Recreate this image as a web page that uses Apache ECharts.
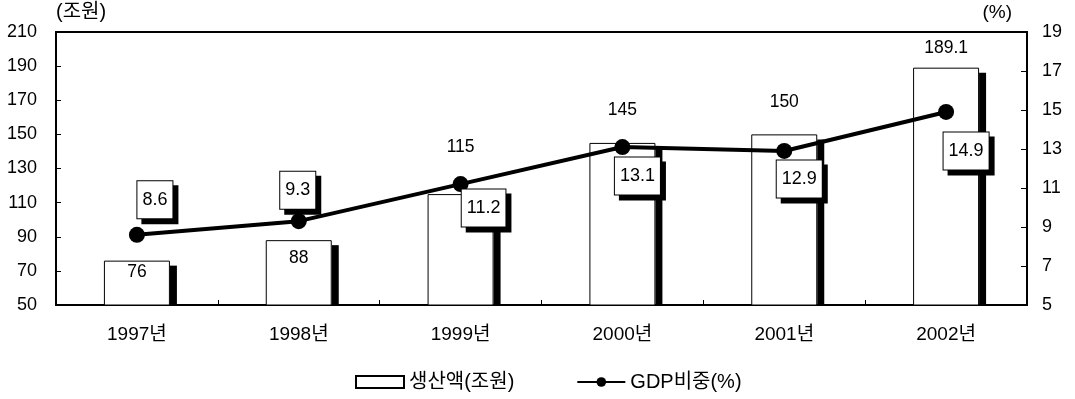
<!DOCTYPE html>
<html>
<head>
<meta charset="utf-8">
<script src="https://cdn.jsdelivr.net/npm/echarts@6/dist/echarts.min.js"></script>
<style>
  html, body { margin: 0; padding: 0; background: #fff; }
  #chart { width: 1075px; height: 399px; }
</style>
</head>
<body>
<div id="chart"></div>
<script>
// Production value (조원) and share of GDP (%), 1997–2002
const years = ['1997년', '1998년', '1999년', '2000년', '2001년', '2002년'];
const production = [76, 88, 115, 145, 150, 189.1];
const gdpShare = [8.6, 9.3, 11.2, 13.1, 12.9, 14.9];
const leftTicks = { min: 50, max: 210, interval: 20 };
const rightTicks = { min: 5, max: 19, interval: 2 };

const FONT = "'Liberation Sans', 'Noto Sans CJK KR', Arial, sans-serif";
const BAR_W = 66;

// Where each value label sits relative to its bar / point
const barLabelPlacement = [
  { position: 'insideTop', distance: 3 },
  { position: 'insideTop', distance: 9 },
  { position: 'top', distance: 38 },
  { position: 'top', distance: 24 },
  { position: 'top', distance: 23 },
  { position: 'top', distance: 11 }
];
const shareLabelOffset = [[18, -35], [-1, -31], [23, 24], [15, 29], [15, 28], [20, 39]];

const chart = echarts.init(document.getElementById('chart'), null, { renderer: 'canvas' });

const option = {
  animation: false,
  backgroundColor: '#fff',
  textStyle: { fontFamily: FONT, color: '#000' },
  grid: {
    left: 56, right: 48, top: 32, bottom: 94,
    show: true, borderColor: '#000', borderWidth: 2, backgroundColor: 'transparent'
  },
  legend: {
    data: [
      { name: '생산액(조원)', icon: 'rect' },
      { name: 'GDP비중(%)' }
    ],
    bottom: 2,
    left: 350,
    itemWidth: 48,
    itemHeight: 12,
    itemGap: 62,
    textStyle: { fontFamily: FONT, fontSize: 20, color: '#000' }
  },
  xAxis: {
    type: 'category',
    data: years,
    axisLine: { lineStyle: { color: '#000', width: 2 } },
    axisTick: { show: true, inside: true, length: 5, lineStyle: { color: '#000' } },
    axisLabel: { fontFamily: FONT, fontSize: 19, color: '#000', margin: 20 },
    splitLine: { show: false }
  },
  yAxis: [
    {
      type: 'value',
      min: leftTicks.min, max: leftTicks.max, interval: leftTicks.interval,
      name: '(조원)',
      nameGap: 10,
      nameTextStyle: { fontFamily: FONT, fontSize: 20, color: '#000', align: 'left' },
      axisLine: { show: true, lineStyle: { color: '#000', width: 2 } },
      axisTick: { show: true, inside: true, length: 5, lineStyle: { color: '#000' } },
      axisLabel: { fontFamily: FONT, fontSize: 18, color: '#000', margin: 19 },
      splitLine: { show: false }
    },
    {
      type: 'value',
      position: 'right',
      min: rightTicks.min, max: rightTicks.max, interval: rightTicks.interval,
      name: '(%)',
      nameGap: 10,
      nameTextStyle: { fontFamily: FONT, fontSize: 19, color: '#000', align: 'right', padding: [0, 15, 0, 0] },
      axisLine: { show: true, lineStyle: { color: '#000', width: 2 } },
      axisTick: { show: true, inside: true, length: 6, lineStyle: { color: '#000' } },
      axisLabel: { fontFamily: FONT, fontSize: 18, color: '#000', margin: 15 },
      splitLine: { show: false }
    }
  ],
  series: [
    {
      // drop shadow on the right side of each bar
      type: 'custom',
      name: 'barShadow',
      yAxisIndex: 0,
      z: 1,
      silent: true,
      data: production.map((v, i) => [i, v]),
      renderItem: function (params, api) {
        const top = api.coord([api.value(0), api.value(1)]);
        const base = api.coord([api.value(0), leftTicks.min]);
        return {
          type: 'rect',
          shape: { x: top[0] + BAR_W / 2, y: top[1] + 5, width: 7, height: base[1] - top[1] - 5 },
          style: { fill: '#000' }
        };
      }
    },
    {
      type: 'bar',
      name: '생산액(조원)',
      yAxisIndex: 0,
      z: 2,
      barWidth: BAR_W,
      itemStyle: { color: '#fff', borderColor: '#000', borderWidth: 1 },
      data: production.map((v, i) => ({
        value: v,
        label: {
          show: true,
          position: barLabelPlacement[i].position,
          distance: barLabelPlacement[i].distance
        }
      })),
      label: { fontFamily: FONT, fontSize: 17.5, color: '#000' }
    },
    {
      type: 'line',
      name: 'GDP비중(%)',
      yAxisIndex: 1,
      z: 3,
      symbol: 'circle',
      symbolSize: 16,
      lineStyle: { color: '#000', width: 4 },
      itemStyle: { color: '#000' },
      data: gdpShare.map((v, i) => ({
        value: v,
        label: { offset: shareLabelOffset[i] }
      })),
      label: {
        show: true,
        position: 'inside',
        fontFamily: FONT,
        fontSize: 18,
        lineHeight: 18,
        color: '#000',
        backgroundColor: '#fff',
        borderColor: '#000',
        borderWidth: 1,
        padding: [10, 5, 9, 5],
        shadowColor: '#000',
        shadowOffsetX: 5,
        shadowOffsetY: 5,
        shadowBlur: 0
      }
    }
  ]
};

chart.setOption(option);
</script>
</body>
</html>
